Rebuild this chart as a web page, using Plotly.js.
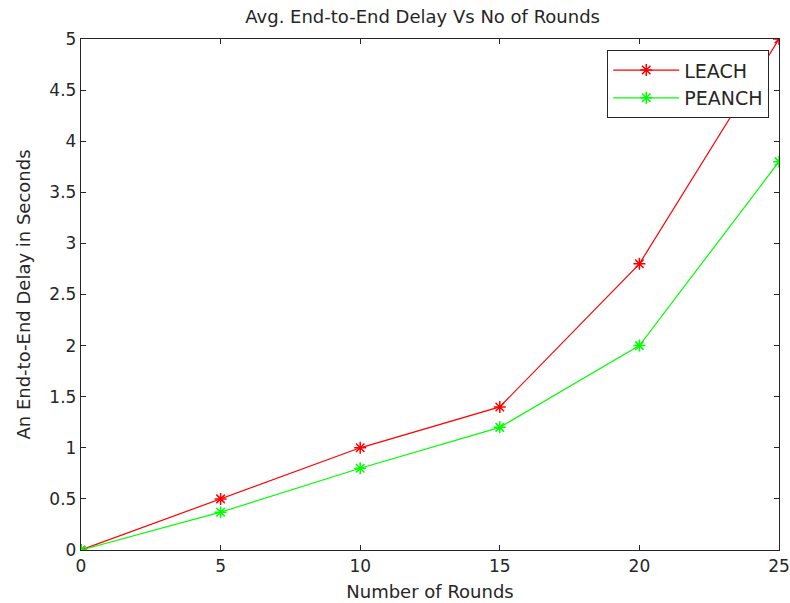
<!DOCTYPE html>
<html><head><meta charset="utf-8">
<script src="https://cdn.plot.ly/plotly-3.0.1.min.js"></script>
<style>body{margin:0;background:#fff}#c{width:790px;height:603px}</style>
</head><body><div id="c"></div>
<script>
const rounds = [0, 5, 10, 15, 20, 25];
const leach = [0, 0.5, 1.0, 1.4, 2.8, 5.0];
const peanch = [0, 0.37, 0.8, 1.2, 2.0, 3.8];
const xTicks = [0, 5, 10, 15, 20, 25];
const yTicks = [0, 0.5, 1, 1.5, 2, 2.5, 3, 3.5, 4, 4.5, 5];

const FAM = 'DejaVu Sans, Verdana, sans-serif';
const TXT = '#262626';
const mk = (c) => ({symbol: 'asterisk-open', size: 10, color: c, line: {color: c, width: 1.5}});
const data = [
  {x: rounds, y: leach, name: 'LEACH', mode: 'lines+markers', line: {color: '#ff0000', width: 1.2}, marker: mk('#ff0000')},
  {x: rounds, y: peanch, name: 'PEANCH', mode: 'lines+markers', line: {color: '#00ff00', width: 1.2}, marker: mk('#00ff00')}
];
const tickFont = {family: FAM, size: 17, color: TXT};
const titleFont = {family: FAM, size: 18, color: TXT};
const layout = {
  width: 790, height: 603,
  margin: {l: 81, r: 11, t: 39, b: 53},
  paper_bgcolor: '#fff', plot_bgcolor: '#fff',
  font: tickFont,
  title: {text: 'Avg. End-to-End Delay Vs No of Rounds', x: 0.535, xanchor: 'center', y: 0.983, yanchor: 'top', font: titleFont},
  xaxis: {range: [0, 25], tickvals: xTicks, ticktext: xTicks.map(String), ticks: 'inside', ticklen: 5, tickcolor: TXT,
    showline: true, linecolor: TXT, linewidth: 1.2, mirror: 'ticks', showgrid: false, zeroline: false,
    tickfont: tickFont,
    title: {text: 'Number of Rounds', standoff: 10, font: titleFont}},
  yaxis: {range: [0, 5], tickvals: yTicks, ticktext: yTicks.map(String), ticks: 'inside', ticklen: 5, tickcolor: TXT,
    showline: true, linecolor: TXT, linewidth: 1.2, mirror: 'ticks', showgrid: false, zeroline: false,
    tickfont: tickFont,
    title: {text: 'An End-to-End Delay in Seconds', standoff: 14, font: titleFont}},
  legend: {x: 0.986, xanchor: 'right', y: 0.978, yanchor: 'top', bordercolor: TXT, borderwidth: 1, bgcolor: '#fff',
    font: {family: FAM, size: 19, color: TXT}, itemwidth: 66, tracegroupgap: 0},
  showlegend: true
};
Plotly.newPlot('c', data, layout, {displayModeBar: false, staticPlot: true});
</script></body></html>
